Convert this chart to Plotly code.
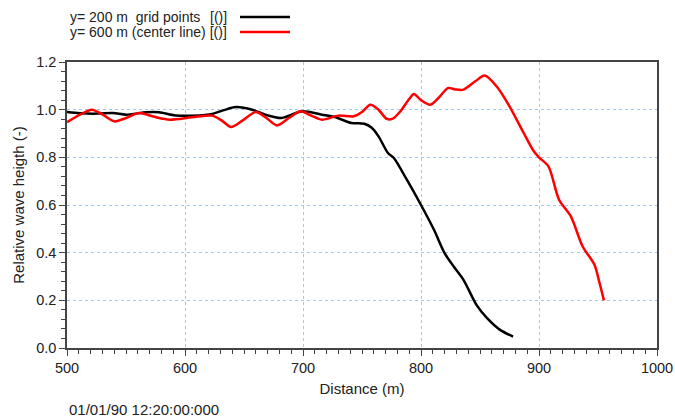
import plotly.graph_objects as go

# y = 200 m grid points
black_x = [500, 511, 522, 539, 550, 567, 578, 592, 612, 623, 633, 643, 657, 668, 682, 699,
           716, 727, 741, 752, 758, 764, 772, 777, 788, 800, 811, 820, 828, 836, 847, 856, 867, 878]
black_y = [0.99, 0.985, 0.983, 0.986, 0.979, 0.989, 0.989, 0.976, 0.976, 0.982, 0.998, 1.011,
           1.0, 0.979, 0.965, 0.993, 0.979, 0.969, 0.944, 0.941, 0.925, 0.888, 0.818, 0.797,
           0.706, 0.6, 0.496, 0.398, 0.34, 0.286, 0.181, 0.125, 0.076, 0.048]

# y = 600 m center line
red_x = [500, 511, 521, 530, 540, 550, 561, 574, 587, 606, 623, 631, 639, 649, 660, 669, 678,
         688, 698, 707, 716, 730, 743, 750, 757, 764, 771, 776, 782, 790, 794, 800, 808, 815,
         823, 829, 836, 846, 854, 864, 875, 887, 895, 900, 908, 917, 927, 937, 947, 951, 955]
red_y = [0.947, 0.979, 1.0, 0.98, 0.951, 0.965, 0.986, 0.97, 0.958, 0.968, 0.975, 0.955, 0.927,
         0.955, 0.99, 0.965, 0.934, 0.965, 0.993, 0.975, 0.958, 0.975, 0.972, 0.99, 1.021, 1.0,
         0.961, 0.962, 0.99, 1.045, 1.066, 1.04, 1.021, 1.05, 1.091, 1.085, 1.084, 1.119, 1.143,
         1.098, 1.014, 0.902, 0.83, 0.80, 0.762, 0.622, 0.552, 0.426, 0.349, 0.279, 0.2]

NB = "\u00a0"
legend_labels = ["y= 200 m" + NB * 2 + "grid points", "y= 600 m (center line) [()]"]
FONT = "Liberation Sans, Arial, sans-serif"

fig = go.Figure()
fig.add_trace(go.Scatter(x=black_x, y=black_y, mode="lines", line=dict(color="black", width=2.5, shape="spline", smoothing=0.8)))
fig.add_trace(go.Scatter(x=red_x, y=red_y, mode="lines", line=dict(color="#ff0000", width=2.5, shape="spline", smoothing=0.8)))

# hand-drawn legend (text left of line sample, like the original)
# plot area spans page x 67..657 and y 62..348
for i, (lab, col) in enumerate(zip(legend_labels, ["black", "#ff0000"])):
    yp = 1 + (45 - 15 * i) / 286
    fig.add_annotation(xref="paper", yref="paper", x=(68 - 67) / 590, y=yp, text=lab,
                       showarrow=False, xanchor="left", yanchor="middle",
                       font=dict(size=14, color="#222", family=FONT))
    if i == 0:
        fig.add_annotation(xref="paper", yref="paper", x=(229 - 67) / 590, y=yp, text="[()]",
                           showarrow=False, xanchor="right", yanchor="middle",
                           font=dict(size=14, color="#222", family=FONT))
    fig.add_shape(type="line", xref="paper", yref="paper", x0=(240 - 67) / 590, x1=(290 - 67) / 590,
                  y0=yp, y1=yp, line=dict(color=col, width=2.5))

fig.add_annotation(xref="paper", yref="paper", x=0, y=-62 / 286, text="01/01/90 12:20:00:000",
                   showarrow=False, xanchor="left", yanchor="middle",
                   font=dict(size=15, color="#222", family=FONT))

axis_common = dict(showline=True, linecolor="#444", linewidth=1.5, mirror=True,
                   ticks="outside", ticklen=6, tickcolor="#444", automargin=False,
                   showgrid=True, gridcolor="#99c9ff", griddash="dot", gridwidth=1.4,
                   zeroline=False, tickfont=dict(size=14.5, color="#222", family=FONT))

fig.update_xaxes(range=[500, 1000], dtick=100, tick0=500,
                 minor=dict(ticks="outside", dtick=10, ticklen=4, tickcolor="#444", showgrid=False),
                 title=dict(text="Distance (m)", font=dict(size=15, color="#222", family=FONT), standoff=8),
                 **axis_common)
fig.update_yaxes(range=[0, 1.2], dtick=0.2, tick0=0, tickformat=".1f",
                 minor=dict(ticks="outside", dtick=0.04, ticklen=4, tickcolor="#444", showgrid=False),
                 title=dict(text="Relative wave heigth (-)", font=dict(size=15, color="#222", family=FONT), standoff=8),
                 **axis_common)

fig.update_layout(width=675, height=420, showlegend=False,
                  margin=dict(l=67, r=18, t=62, b=72),
                  plot_bgcolor="white", paper_bgcolor="white")

# drop the default body margin so the 675x420 figure fills the window exactly
fig.write_html("out.html", config={"displayModeBar": False},
               post_script="document.body.style.margin='0';document.body.style.overflow='hidden';")
